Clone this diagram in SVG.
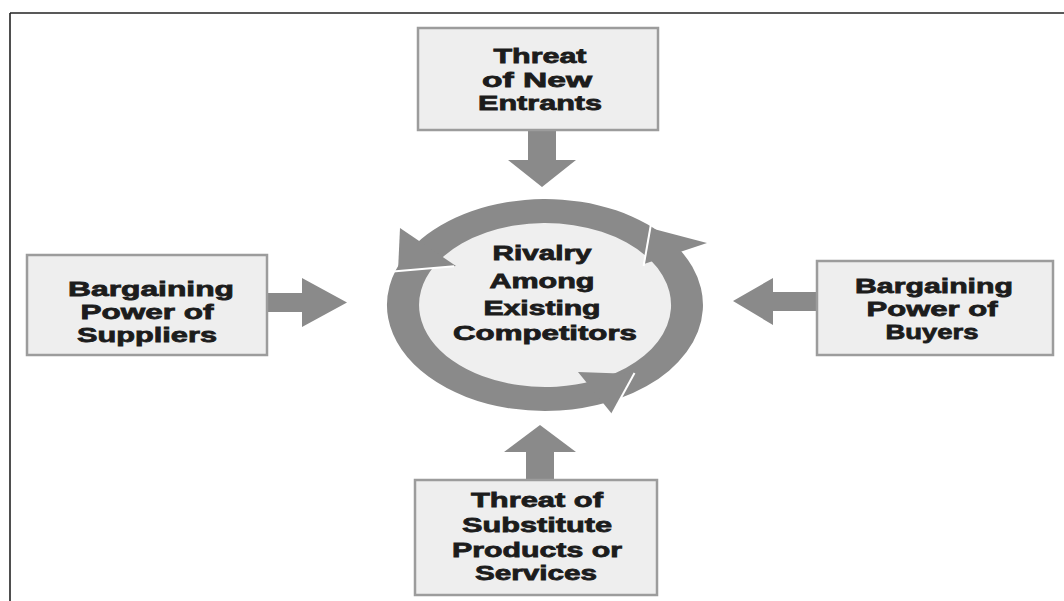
<svg xmlns="http://www.w3.org/2000/svg" width="1064" height="601" viewBox="0 0 1064 601">
<style>
.box{fill:#eeeeee;stroke:#9c9c9c;stroke-width:2.5}
.t{font-family:"Liberation Sans",Arial,sans-serif;font-weight:bold;font-size:21px;fill:#1c1c1c;stroke:#1c1c1c;stroke-width:0.8;text-anchor:middle}
.c{font-size:20px}
.g{fill:#8a8a8a}
.gap{stroke:#ffffff;stroke-width:2;fill:none}
</style>
<rect x="0" y="0" width="1064" height="601" fill="#ffffff"/>
<g id="frame" stroke="#222" stroke-width="1.6" fill="none">
<line x1="10" y1="13" x2="1064" y2="13"/>
<line x1="10" y1="13" x2="10" y2="601"/>
</g>
<g id="connectors" class="g">
<polygon points="528,130 556,130 556,160 576,160 542,187 508,160 528,160"/>
<polygon points="526,480 554,480 554,452 576,452 540,425 504,452 526,452"/>
<polygon points="265,293 302,293 302,278 347,302.5 302,327 302,312 265,312"/>
<polygon points="817,292 773,292 773,278 733,301 773,325 773,311 817,311"/>
</g>
<g id="rivalry">
<ellipse cx="545" cy="305" rx="130" ry="86" fill="#efefef"/>
<g class="g">
<path d="M672.8,242.7 A158,106 0 0 0 415.6,244.2 L441.8,258.0 A126,82 0 0 1 646.9,256.8 Z"/>
<path d="M405.5,255.2 A158,106 0 0 0 606.7,402.6 L594.2,380.5 A126,82 0 0 1 433.8,266.5 Z"/>
<path d="M619.2,398.6 A158,106 0 0 0 677.5,247.3 L650.7,260.3 A126,82 0 0 1 604.2,377.4 Z"/>
<polygon points="400,228 398,271 456,266"/>
<polygon points="578,372 634,374 612,414"/>
<polygon points="644,264 650,228 707,243"/>
</g>
<line class="gap" x1="390" y1="271.7" x2="454" y2="266.2"/>
<line class="gap" x1="634.5" y1="373" x2="611" y2="416"/>
<line class="gap" x1="651" y1="224" x2="643.6" y2="266"/>
<text class="t c" x="542" y="260" textLength="99" lengthAdjust="spacingAndGlyphs">Rivalry</text>
<text class="t c" x="542" y="288" textLength="105" lengthAdjust="spacingAndGlyphs">Among</text>
<text class="t c" x="542" y="315" textLength="117" lengthAdjust="spacingAndGlyphs">Existing</text>
<text class="t c" x="545" y="340" textLength="184" lengthAdjust="spacingAndGlyphs">Competitors</text>
</g>
<g id="new-entrants">
<rect class="box" x="418" y="28" width="240" height="102"/>
<text class="t" x="540" y="63" textLength="93" lengthAdjust="spacingAndGlyphs">Threat</text>
<text class="t" x="537" y="87" textLength="110" lengthAdjust="spacingAndGlyphs">of New</text>
<text class="t" x="540" y="110" textLength="124" lengthAdjust="spacingAndGlyphs">Entrants</text>
</g>
<g id="suppliers">
<rect class="box" x="27" y="255" width="240" height="100"/>
<text class="t" x="151" y="296" textLength="166" lengthAdjust="spacingAndGlyphs">Bargaining</text>
<text class="t" x="147" y="319" textLength="133" lengthAdjust="spacingAndGlyphs">Power of</text>
<text class="t" x="147" y="342" textLength="140" lengthAdjust="spacingAndGlyphs">Suppliers</text>
</g>
<g id="buyers">
<rect class="box" x="817" y="261" width="236" height="94"/>
<text class="t" x="934" y="293" textLength="158" lengthAdjust="spacingAndGlyphs">Bargaining</text>
<text class="t" x="932" y="316" textLength="131" lengthAdjust="spacingAndGlyphs">Power of</text>
<text class="t" x="932" y="339" textLength="93" lengthAdjust="spacingAndGlyphs">Buyers</text>
</g>
<g id="substitutes">
<rect class="box" x="415" y="480" width="242" height="115"/>
<text class="t" x="537" y="507" textLength="132" lengthAdjust="spacingAndGlyphs">Threat of</text>
<text class="t" x="537" y="532" textLength="150" lengthAdjust="spacingAndGlyphs">Substitute</text>
<text class="t" x="537" y="557" textLength="170" lengthAdjust="spacingAndGlyphs">Products or</text>
<text class="t" x="536" y="580" textLength="122" lengthAdjust="spacingAndGlyphs">Services</text>
</g>
</svg>
